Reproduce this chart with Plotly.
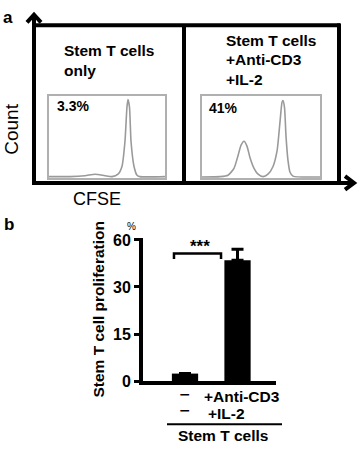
import plotly.graph_objects as go

# ---------------- data ----------------
# Panel a: CFSE histograms (x: CFSE, arbitrary units 0-100; y: count, % of max)
ctrl_cfse = [0, 18.1, 31.0, 39.7, 48.3, 54.3, 59.5, 62.9, 65.5, 67.2, 68.1, 69.4, 70.7, 73.3, 75.9, 78.4, 100]
ctrl_count = [1.8, 1.8, 2.9, 4.7, 2.9, 1.8, 4.7, 14.1, 44.7, 85.9, 95.3, 85.9, 44.7, 14.1, 3.5, 1.8, 1.8]

stim_cfse = [0, 15.3, 22.0, 27.1, 30.5, 33.1, 35.6, 38.1, 40.7, 44.1, 47.5, 51.7, 55.9, 60.2,
             63.6, 66.1, 67.8, 68.6, 69.9, 71.2, 72.9, 74.6, 77.1, 100]
stim_count = [1.4, 1.8, 3.5, 11.8, 27.1, 40.0, 44.7, 38.8, 24.7, 11.8, 4.7, 1.8, 4.7, 14.1,
              32.9, 68.2, 91.8, 94.1, 85.9, 50.6, 21.2, 7.1, 2.4, 1.4]

ctrl_pct_label = "3.3%"
stim_pct_label = "41%"

# Panel b: proliferation bars
groups = [0, 1]
prolif = [2.4, 38.5]
prolif_err = [0, 3.5]
tick_vals = [0, 15, 30, 45]
tick_labels = ["0", "15", "30", "60"]

W, H = 358, 452


def px(x):
    return x / W


def py(y):
    return 1 - y / H


fig = go.Figure()

gray = "#9a9a9a"
fig.add_trace(go.Scatter(x=ctrl_cfse, y=ctrl_count, mode="lines",
                         line=dict(color=gray, width=1.6, shape="spline", smoothing=0.6),
                         xaxis="x", yaxis="y", hoverinfo="skip"))
fig.add_trace(go.Scatter(x=stim_cfse, y=stim_count, mode="lines",
                         line=dict(color=gray, width=1.6, shape="spline", smoothing=0.6),
                         xaxis="x2", yaxis="y2", hoverinfo="skip"))

fig.add_trace(go.Bar(x=groups, y=prolif, width=0.5, marker=dict(color="black", line=dict(width=0)),
                     error_y=dict(type="data", symmetric=False, array=prolif_err,
                                  arrayminus=[0, 0], color="black", thickness=3, width=6,
                                  visible=True),
                     xaxis="x3", yaxis="y3"))

# significance bracket
fig.add_trace(go.Scatter(x=[-0.21, -0.21, 0.686, 0.686], y=[38.9, 40.7, 40.7, 38.9],
                         mode="lines", line=dict(color="black", width=2.5),
                         xaxis="x3", yaxis="y3", hoverinfo="skip", cliponaxis=False))

hist_ax = dict(range=[0, 100], showgrid=False, zeroline=False, showticklabels=False,
               ticks="", showline=True, linecolor="#b0b0b0", linewidth=1.5, mirror=True,
               fixedrange=True)

fig.update_layout(
    width=W, height=H, margin=dict(l=0, r=0, t=0, b=0),
    paper_bgcolor="white", plot_bgcolor="rgba(0,0,0,0)", showlegend=False,
    font=dict(family="Liberation Sans, Arial, sans-serif", color="black"),
    xaxis=dict(domain=[px(49), px(165)], anchor="y", **hist_ax),
    yaxis=dict(domain=[py(178), py(92.7)], anchor="x", **hist_ax),
    xaxis2=dict(domain=[px(202), px(320)], anchor="y2", **hist_ax),
    yaxis2=dict(domain=[py(178), py(92.7)], anchor="x2", **hist_ax),
    xaxis3=dict(domain=[px(143), px(276)], anchor="y3", range=[-0.8, 1.733],
                showgrid=False, zeroline=False, showticklabels=False, ticks="",
                showline=True, linecolor="black", linewidth=4),
    yaxis3=dict(domain=[py(388), py(240)], anchor="x3", range=[0, 45.6],
                tickvals=tick_vals, ticktext=[f"<b>{t}</b>" for t in tick_labels],
                ticks="outside", ticklen=5,
                tickwidth=3, tickcolor="black", showgrid=False, zeroline=False,
                showline=True, linecolor="black", linewidth=4,
                tickfont=dict(size=16, family="Liberation Sans Narrow, Liberation Sans, Arial", color="black")),
)

# panel a frame + arrows
lw = 4
shapes = [
    dict(type="line", x0=px(34), x1=px(34), y0=py(185), y1=py(10)),
    dict(type="line", x0=px(32), x1=px(353), y0=py(183), y1=py(183)),
    dict(type="line", x0=px(34), x1=px(340), y0=py(20), y1=py(20)),
    dict(type="line", x0=px(339), x1=px(339), y0=py(18), y1=py(183)),
    dict(type="line", x0=px(184), x1=px(184), y0=py(20), y1=py(183)),
    dict(type="path", path=f"M {px(27)},{py(17)} L {px(34)},{py(9)} L {px(41)},{py(17)}"),
    dict(type="path", path=f"M {px(345)},{py(176)} L {px(354)},{py(183)} L {px(345)},{py(190)}"),
    # underline below bar group labels
    dict(type="line", x0=px(167), x1=px(282), y0=py(432.7), y1=py(432.7),
         line=dict(color="black", width=2)),
]
for s in shapes:
    s.setdefault("xref", "paper")
    s.setdefault("yref", "paper")
    s.setdefault("line", dict(color="black", width=lw))
fig.update_layout(shapes=shapes)

ann = []


def T(text, x, y, size, bold=True, xanchor="center", yanchor="middle", angle=0, align="center",
      family=None):
    t = f"<b>{text}</b>" if bold else text
    f = dict(size=size, color="black")
    if family:
        f["family"] = family
    ann.append(dict(text=t, x=px(x), y=py(y), xref="paper", yref="paper", showarrow=False,
                    xanchor=xanchor, yanchor=yanchor, textangle=angle, align=align,
                    borderpad=0, font=f))


T("a", 8, 12, 17)
T("b", 9, 226, 17)
T("Count", 12, 128, 19, bold=False, angle=-90)
T("CFSE", 97, 200, 18, bold=False)
T("Stem T cells<br>only", 63, 56, 15.5, xanchor="left", align="left")
T("Stem T cells", 225, 36, 15.5, xanchor="left", align="left")
T("+Anti-CD3<br>+IL-2", 225, 66, 15.5, xanchor="left", align="left")
T(ctrl_pct_label, 56, 103, 14, xanchor="left")
T(stim_pct_label, 208, 105, 14, xanchor="left")

T("%", 131, 228, 10, bold=False)
T("Stem T cell proliferation", 99, 314, 15.5, angle=-90)
T("***", 200, 249, 17)
T("−", 185, 401, 14, family="DejaVu Sans")
T("−", 185, 418, 14, family="DejaVu Sans")
T("+Anti-CD3", 203, 404, 15.5, xanchor="left")
T("+IL-2", 207, 422, 15.5, xanchor="left")
T("Stem T cells", 223, 444, 15.5)

fig.update_layout(annotations=ann)

fig.write_html("out.html", config={"displayModeBar": False},
               post_script="document.body.style.margin='0';document.body.style.padding='0';")
